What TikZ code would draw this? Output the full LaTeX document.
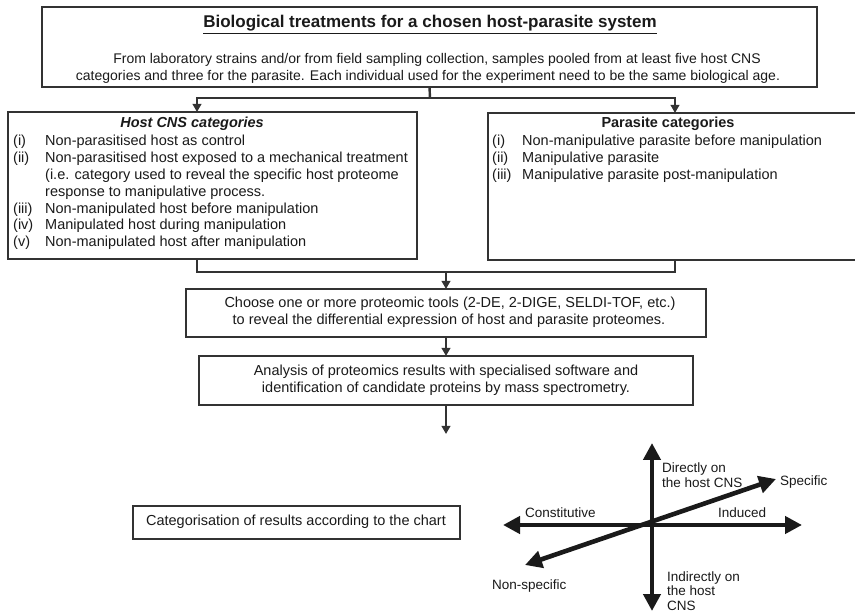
\documentclass[tikz,border=0pt]{standalone}
\usepackage{fontspec}
\setmainfont{Liberation Sans}
\usetikzlibrary{arrows.meta}

\definecolor{boxline}{HTML}{333333}
\definecolor{ink}{HTML}{1A1A1A}

\tikzset{
  box/.style={draw=boxline, line width=2.4pt, inner sep=0pt, outer sep=0pt, anchor=north west},
  item/.style={inner sep=0pt, anchor=west, text height=10.5pt, text depth=3pt, text=ink,
    font=\fontsize{14.5}{16.7}\selectfont},
  line/.style={inner sep=0pt, text height=10.5pt, text depth=3pt, text=ink,
    font=\fontsize{14.5}{16.7}\selectfont},
  chartlabel/.style={inner sep=0pt, anchor=west, align=left, text=ink,
    font=\fontsize{13.5}{14.8}\selectfont},
  link/.style={draw=boxline, line width=2.4pt},
  flow/.style={link, -{Triangle[length=8pt,width=8.5pt]}},
  axis/.style={line width=4.6pt, draw=ink,
    {Triangle[length=17pt,width=17pt]}-{Triangle[length=17pt,width=17pt]}},
}

\begin{document}
\begin{tikzpicture}[x=1pt,y=-1pt]
\useasboundingbox[fill=white] (0,0) rectangle (855,612);

% boxes
\node[box, line width=2.8pt, minimum width=775pt, minimum height=80pt] (topbox) at (42,7) {};
\node[box, minimum width=409pt, minimum height=147pt] (hostbox) at (8,112) {};
\node[box, minimum width=380pt, minimum height=147pt] (parabox) at (488,113) {};
\node[box, minimum width=520pt, minimum height=48pt] (choosebox) at (186,289) {};
\node[box, minimum width=494pt, minimum height=49pt] (analysisbox) at (199,356) {};
\node[box, minimum width=327pt, minimum height=33pt] (chartbox) at (133,506) {};

% top box
\node[line, font=\fontsize{17}{20}\selectfont\bfseries] (toptitle) at (430,24)
  {\underline{Biological treatments for a chosen host-parasite system}};
\node[line, font=\fontsize{14}{16}\selectfont] (topline1) at (437,60)
  {From laboratory strains and/or from field sampling collection, samples pooled from at least five host CNS};
\node[line, font=\fontsize{14}{16}\selectfont] (topline2) at (428,77)
  {categories and three for the parasite. Each individual used for the experiment need to be the same biological age.};

% host CNS categories
\node[line, font=\fontsize{14.5}{16.7}\selectfont\bfseries\itshape] (hosttitle) at (192,124) {Host CNS categories};
\foreach \y/\lab/\txt [count=\i] in {
  142/(i)/Non-parasitised host as control,
  159/(ii)/Non-parasitised host exposed to a mechanical treatment,
  176//(i.e. category used to reveal the specific host proteome,
  193//response to manipulative process.,
  210/(iii)/Non-manipulated host before manipulation,
  226/(iv)/Manipulated host during manipulation,
  243/(v)/Non-manipulated host after manipulation}
{
  \node[item] (hostlab\i) at (13,\y) {\lab};
  \node[item] (hostitem\i) at (45,\y) {\txt};
}

% parasite categories
\node[line, font=\fontsize{14.5}{16.7}\selectfont\bfseries] (paratitle) at (668,124) {Parasite categories};
\foreach \y/\lab/\txt [count=\i] in {
  142/(i)/Non-manipulative parasite before manipulation,
  159/(ii)/Manipulative parasite,
  176/(iii)/Manipulative parasite post-manipulation}
{
  \node[item] (paralab\i) at (492,\y) {\lab};
  \node[item] (paraitem\i) at (522,\y) {\txt};
}

% proteomics steps
\node[line] (chooseline1) at (450,304) {Choose one or more proteomic tools (2-DE, 2-DIGE, SELDI-TOF, etc.)};
\node[line] (chooseline2) at (449,321) {to reveal the differential expression of host and parasite proteomes.};
\node[line] (analysisline1) at (446,372) {Analysis of proteomics results with specialised software and};
\node[line] (analysisline2) at (446,389) {identification of candidate proteins by mass spectrometry.};
\node[line] (charttext) at (296,522) {Categorisation of results according to the chart};

% connectors
\coordinate (split) at (430,98);
\coordinate (hostin) at (197,112);
\coordinate (parain) at (675,113);
\coordinate (hostout) at (197,259);
\coordinate (paraout) at (675,260);
\coordinate (merge) at (446,272);
\coordinate (resultend) at (446,434);

\draw[link] (topbox.south) -- (split);
\draw[flow] (split) -| (hostin);
\draw[flow] (split) -| (parain);
\draw[link] (hostout) |- (merge) -| (paraout);
\draw[flow] (merge) -- (merge |- choosebox.north);
\draw[flow] (choosebox.south) -- (analysisbox.north);
\draw[flow] (analysisbox.south) -- (analysisbox.south |- resultend);

% chart
\coordinate (origin) at (652,525);
\coordinate (axtop) at (652,443);
\coordinate (axbottom) at (652,611);
\coordinate (axleft) at (503,525);
\coordinate (axright) at (802,525);
\coordinate (nonspec) at (525,565);
\coordinate (spec) at (776,479);

\draw[axis] (axbottom) -- (axtop);
\draw[axis] (axleft) -- (axright);
\draw[axis] (nonspec) -- (spec);

\node[chartlabel] (directly) at (662,475) {Directly on\\the host CNS};
\node[chartlabel] (specific) at (780,482) {Specific};
\node[chartlabel] (constitutive) at (525,513) {Constitutive};
\node[chartlabel] (induced) at (718,513) {Induced};
\node[chartlabel] (nonspecific) at (492,586) {Non-specific};
\node[chartlabel] (indirectly) at (667,591) {Indirectly on\\the host\\CNS};

\end{tikzpicture}
\end{document}
